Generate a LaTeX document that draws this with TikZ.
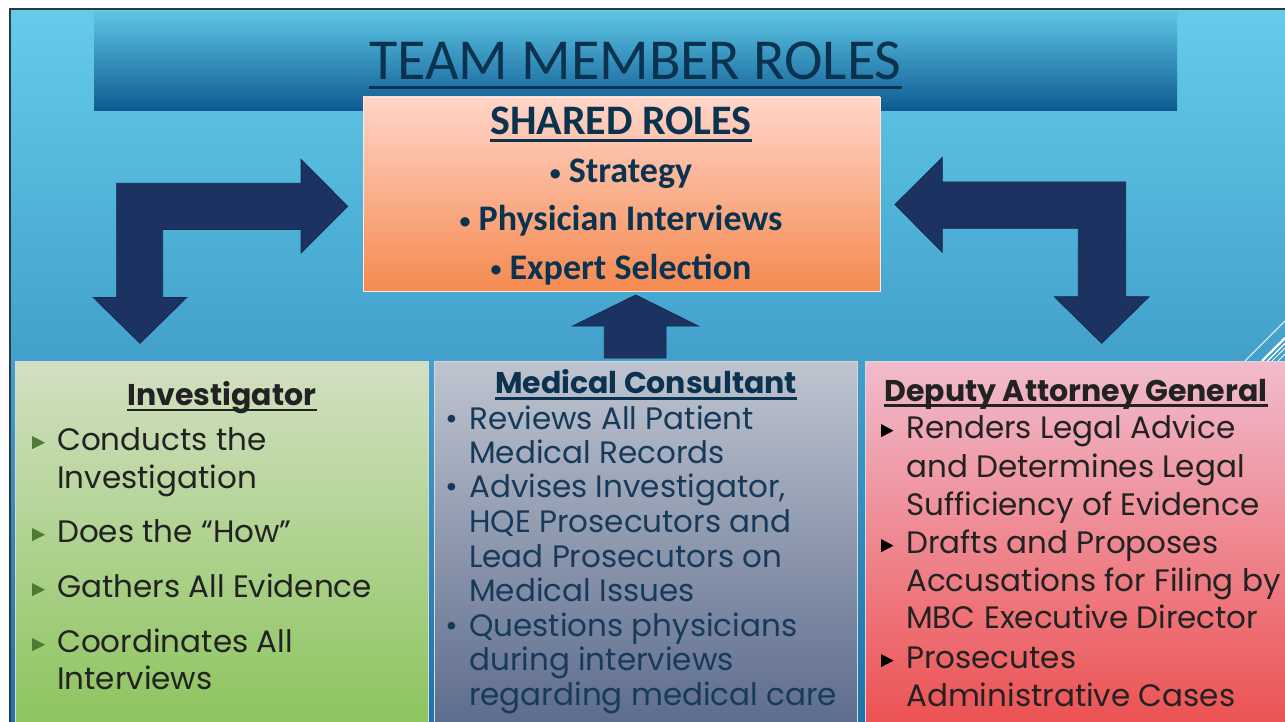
\documentclass[tikz,border=0pt]{standalone}
\usepackage{fontspec}
\newfontfamily\calfont{Carlito}
\newfontfamily\gothfont{Poppins}
\definecolor{bgtop}{HTML}{64CCEA}
\definecolor{bgbot}{HTML}{1F72AB}
\definecolor{frame}{HTML}{2A3B48}
\definecolor{bandtop}{HTML}{5CC5E4}
\definecolor{bandbot}{HTML}{0E5A92}
\definecolor{navy}{HTML}{0B3350}
\definecolor{arrowfill}{HTML}{1C3260}
\definecolor{arrowline}{HTML}{132A4E}
\definecolor{shtop}{HTML}{FFD5C9}
\definecolor{shbot}{HTML}{F58A50}
\definecolor{invtop}{HTML}{D2E0C2}
\definecolor{invbot}{HTML}{8CC45C}
\definecolor{medtop}{HTML}{BEC4CF}
\definecolor{medbot}{HTML}{5C6B8C}
\definecolor{deptop}{HTML}{F1BCCD}
\definecolor{depbot}{HTML}{EC5050}
\definecolor{medtext}{HTML}{173A5A}
\definecolor{darktext}{HTML}{222222}
\definecolor{greenbul}{HTML}{4E7A35}
\newcommand{\smallbul}{{\fontsize{22}{22}\selectfont\raisebox{2.5pt}{•}}}
\begin{document}
\begin{tikzpicture}[x=1pt,y=-1pt,
  blockarrow/.style={fill=arrowfill,draw=arrowline,line width=0.8pt,line join=miter},
  rolebox/.style={draw=white!70!gray,line width=0.8pt},
  heading/.style={inner sep=0pt,anchor=base,font=\gothfont\bfseries\fontsize{30}{30}\selectfont},
  bodyline/.style={inner sep=0pt,anchor=base west,font=\gothfont\fontsize{31}{31}\selectfont},
  shline/.style={inner sep=0pt,anchor=base,text=navy,font=\calfont\bfseries\fontsize{36}{36}\selectfont},
  stripe/.style={white,line width=1pt}]
\useasboundingbox (0,0) rectangle (1285,722);
\fill[white] (0,0) rectangle (1285,722);
% slide background
\fill[top color=bgtop,bottom color=bgbot] (10,9) rectangle (1285,722);
\draw[frame,line width=2pt] (10,722) -- (10,9) -- (1285,9);
% title band
\fill[top color=bandtop,bottom color=bandbot] (94,11.5) rectangle (1177,110.5);
\node[inner sep=0pt,anchor=base,text=navy,font=\calfont\fontsize{58}{58}\selectfont] (title) at (635.5,80) {TEAM MEMBER ROLES};
\fill[navy] ([yshift=-6.5pt]title.base west) rectangle ([yshift=-9.5pt]title.base east);
% stripes
\draw[stripe,line width=1pt] (1245,361) -- (1285,321);
\draw[stripe,line width=2.4pt] (1262,361) -- (1285,338);
\draw[stripe,line width=1.2pt] (1267.5,361) -- (1285,343.5);
\draw[stripe,line width=1pt] (1272,361) -- (1285,348);
\draw[stripe,line width=1pt] (1278,361) -- (1285,354);
% block arrows
\filldraw[blockarrow] (116.7,183.3) -- (301,183.3) -- (301,159.5) -- (347.7,206.3) -- (301,253) -- (301,229.5) -- (162.7,229.5) -- (162.7,297.5) -- (186.7,297.5) -- (140,343.3) -- (93.3,297.5) -- (116.7,297.5) -- cycle;
\filldraw[blockarrow] (1125.7,182) -- (942.3,182) -- (942.3,157.5) -- (895,204.5) -- (942.3,252.3) -- (942.3,228.3) -- (1078.3,228.3) -- (1078.3,296.7) -- (1054.3,296.7) -- (1101.7,343.3) -- (1149,296.7) -- (1125.7,296.7) -- cycle;
\filldraw[blockarrow] (635.7,295) -- (698.3,326) -- (666,326) -- (666,358) -- (604.3,358) -- (604.3,326) -- (572.7,326) -- cycle;
% shared roles box
\filldraw[rolebox,draw=shtop!60!white,top color=shtop,bottom color=shbot] (363,97) rectangle (880,291);
\node[shline,font=\calfont\bfseries\fontsize{42}{42}\selectfont] (shtitle) at (621,135) {SHARED ROLES};
\fill[navy] ([yshift=-4pt]shtitle.base west) rectangle ([yshift=-7pt]shtitle.base east);
\node[shline] (sh1) at (621,183) {\smallbul\ Strategy};
\node[shline] (sh2) at (621,231) {\smallbul\ Physician Interviews};
\node[shline] (sh3) at (621,279) {\smallbul\ Expert Selection};
% bottom boxes
\filldraw[rolebox,top color=invtop,bottom color=invbot] (15,361.7) rectangle (428.3,730);
\filldraw[rolebox,top color=medtop,bottom color=medbot] (434,361.7) rectangle (857.7,730);
\filldraw[rolebox,top color=deptop,bottom color=depbot] (865,361.7) rectangle (1290,730);
% investigator
\node[heading,text=darktext] (invh) at (222,405) {Investigator};
\fill[darktext] ([yshift=-4pt]invh.base west) rectangle ([yshift=-6.3pt]invh.base east);
\foreach \yy in {450,542,597,652} {\fill[greenbul] (32,\yy-14) -- (45,\yy-7.3) -- (32,\yy-0.8) -- cycle;}
\node[bodyline,text=darktext] (inv1) at (57,450) {Conducts the};
\node[bodyline,text=darktext] (inv2) at (57,488) {Investigation};
\node[bodyline,text=darktext] (inv3) at (57,542) {Does the “How”};
\node[bodyline,text=darktext] (inv4) at (57,597) {Gathers All Evidence};
\node[bodyline,text=darktext] (inv5) at (57,652) {Coordinates All};
\node[bodyline,text=darktext] (inv6) at (57,689) {Interviews};
% medical consultant
\node[heading,text=navy] (medh) at (646,393) {Medical Consultant};
\fill[navy] ([yshift=-4pt]medh.base west) rectangle ([yshift=-6.5pt]medh.base east);
\foreach \yy in {429,497,636} {\node[bodyline,text=medtext] at (445,\yy) {•};}
\node[bodyline,text=medtext] (med1) at (469,429) {Reviews All Patient};
\node[bodyline,text=medtext] (med2) at (469,463) {Medical Records};
\node[bodyline,text=medtext] (med3) at (469,497) {Advises Investigator,};
\node[bodyline,text=medtext] (med4) at (469,532) {HQE Prosecutors and};
\node[bodyline,text=medtext] (med5) at (469,567) {Lead Prosecutors on};
\node[bodyline,text=medtext] (med6) at (469,601) {Medical Issues};
\node[bodyline,text=medtext] (med7) at (469,636) {Questions physicians};
\node[bodyline,text=medtext] (med8) at (469,670) {during interviews};
\node[bodyline,text=medtext] (med9) at (469,705) {regarding medical care};
% deputy attorney general
\node[heading,text=darktext] (deph) at (1076,401) {Deputy Attorney General};
\fill[darktext] ([yshift=-3pt]deph.base west) rectangle ([yshift=-5.5pt]deph.base east);
\foreach \yy in {438,553,668} {\fill[black] (881,\yy-14) -- (893.5,\yy-7.3) -- (881,\yy-0.8) -- cycle;}
\node[bodyline,text=darktext] (dep1) at (906,438) {Renders Legal Advice};
\node[bodyline,text=darktext] (dep2) at (906,477) {and Determines Legal};
\node[bodyline,text=darktext] (dep3) at (906,515) {Sufficiency of Evidence};
\node[bodyline,text=darktext] (dep4) at (906,553) {Drafts and Proposes};
\node[bodyline,text=darktext] (dep5) at (906,591) {Accusations for Filing by};
\node[bodyline,text=darktext] (dep6) at (906,628) {MBC Executive Director};
\node[bodyline,text=darktext] (dep7) at (906,668) {Prosecutes};
\node[bodyline,text=darktext] (dep8) at (906,706) {Administrative Cases};
\end{tikzpicture}
\end{document}
